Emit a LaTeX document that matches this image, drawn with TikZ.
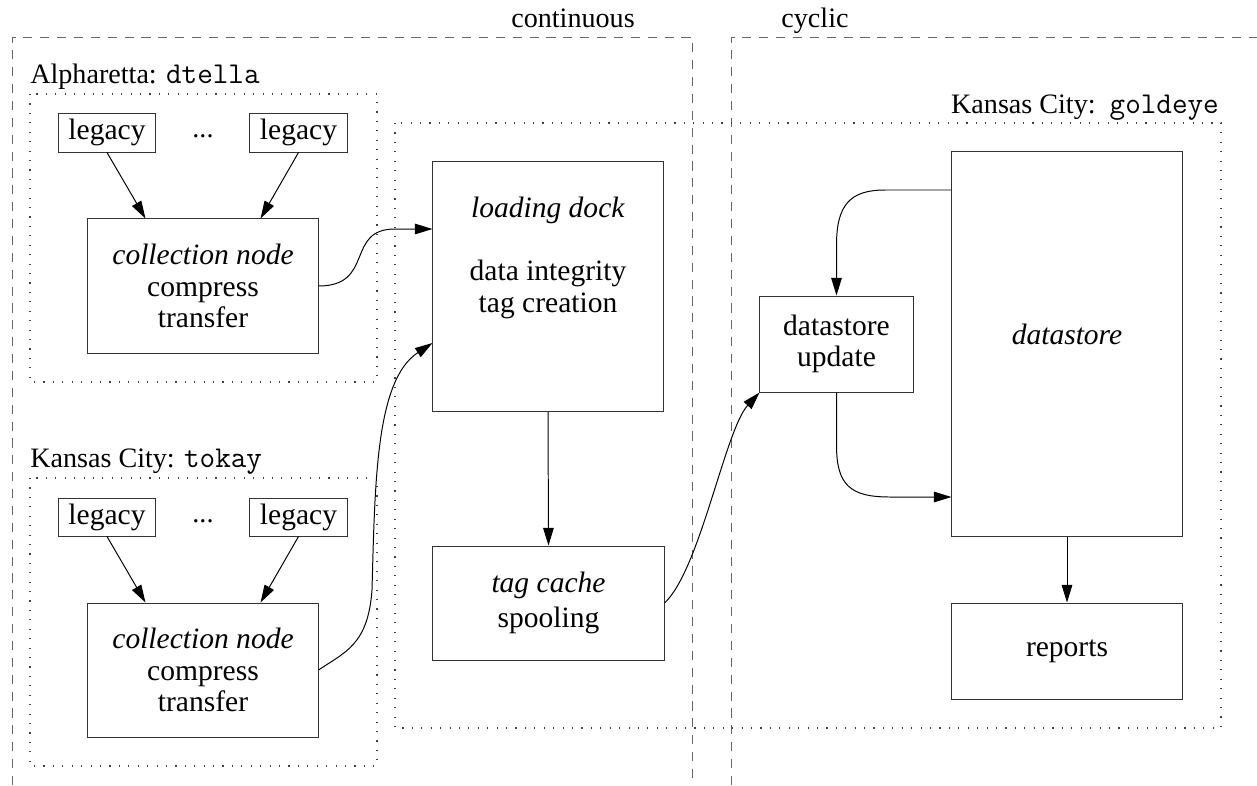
\documentclass[tikz,border=0pt]{standalone}
\usepackage{fontspec}
\setmainfont{Liberation Serif}
\usetikzlibrary{arrows.meta,calc}
\newcommand{\mono}[1]{{\fontsize{21.5}{22}\selectfont\ttfamily #1}}
\begin{document}
\begin{tikzpicture}[x=0.025cm,y=-0.025cm,
  box/.style={draw=black!80, line width=0.7pt, inner sep=0pt, align=center,
              font=\fontsize{21}{22.5}\selectfont},
  conn/.style={line width=0.7pt, -{Triangle[length=12.5pt,width=7.5pt]}},
  zone/.style={draw=black!60, line width=0.7pt, dash pattern=on 6.5pt off 5.5pt},
  site/.style={draw=black!75, line width=0.8pt, dash pattern=on 0.8pt off 5.9pt},
  lbl/.style={font=\fontsize{20}{22}\selectfont, inner sep=0pt}]
\useasboundingbox (0,0) rectangle (1257,785);

% execution zones
\draw[zone] (12,785) -- (12,37) -- (692,37) -- (692,785);
\draw[zone] (731,785) -- (731,37) -- (1257,37);
\node[lbl, anchor=base] (cont) at (573,27) {continuous};
\node[lbl, anchor=base] (cyc) at (815,27) {cyclic};

% sites
\draw[site] (30,94) rectangle (377,382);
\draw[site] (30,478) rectangle (377,766);
\draw[site] (395,123) rectangle (1221,728);
\node[lbl, anchor=base west] (alph) at (30,83) {Alpharetta: \mono{dtella}};
\node[lbl, anchor=base west] (tok) at (30,467) {Kansas City: \mono{tokay}};
\node[lbl, anchor=base east] (gold) at (1219,113) {Kansas City:\, \mono{goldeye}};

% Alpharetta
\node[box, minimum width=2.4cm, minimum height=0.975cm] (legA1) at (107,132.5) {legacy};
\node[box, minimum width=2.425cm, minimum height=0.975cm] (legA2) at (298.5,132.5) {legacy};
\node[lbl] (dotsA) at (203,136) {...};
\node[box, minimum width=5.75cm, minimum height=3.35cm] (colA) at (203,286)
  {\textit{collection node}\\compress\\transfer};

% Kansas City tokay
\node[box, minimum width=2.4cm, minimum height=0.95cm] (legB1) at (107,517) {legacy};
\node[box, minimum width=2.425cm, minimum height=0.95cm] (legB2) at (298.5,517) {legacy};
\node[lbl] (dotsB) at (203,521) {...};
\node[box, minimum width=5.75cm, minimum height=3.35cm] (colB) at (203,670)
  {\textit{collection node}\\compress\\transfer};

% goldeye
\node[box, minimum width=5.75cm, minimum height=6.225cm] (dock) at (548,286.5)
  {\textit{loading dock}\\[22.5pt]data integrity\\tag creation\\[22.5pt]\mbox{}};
\node[box, minimum width=5.775cm, minimum height=2.85cm] (cache) at (548.5,603)
  {\textit{tag cache}\\[2pt]spooling};
\node[box, minimum width=3.825cm, minimum height=2.4cm] (upd) at (836.5,344)
  {datastore\\update};
\node[box, minimum width=5.75cm, minimum height=9.6cm] (ds) at (1067,344)
  {\textit{datastore}\\[-8pt]\mbox{}};
\node[box, minimum width=5.75cm, minimum height=2.4cm] (rep) at (1067,651) {reports};

% connectors
\draw[conn] (legA1.south) -- ($(colA.north west)+(58,0)$);
\draw[conn] (legA2.south) -- ($(colA.north east)+(-58,0)$);
\draw[conn] (legB1.south) -- ($(colB.north west)+(58,0)$);
\draw[conn] (legB2.south) -- ($(colB.north east)+(-58,0)$);

\draw[conn] (colA.east) .. controls (375,286) and (345,229) .. (395,229)
  -- ($(dock.west)+(0,-57.5)$);
\draw[conn] (colB.east) .. controls (345,652) and (368,645) .. (372,590)
  .. controls (375,480) and (376,380) .. ($(dock.west)+(0,56.5)$);
\draw[conn] (dock.south) -- (cache.north);
\draw[conn] (cache.east) .. controls (700,570) and (725,430) .. (upd.south west);
\draw[conn] ($(ds.west)+(0,-154)$) -- (885,190) .. controls (850,190) and (836.5,205)
  .. (836.5,245) -- (upd.north);
\draw[conn] (upd.south) -- (836.5,445) .. controls (836.5,485) and (850,497)
  .. (890,497) -- ($(ds.west)+(0,153)$);
\draw[conn] (ds.south) -- (rep.north);
\end{tikzpicture}
\end{document}
